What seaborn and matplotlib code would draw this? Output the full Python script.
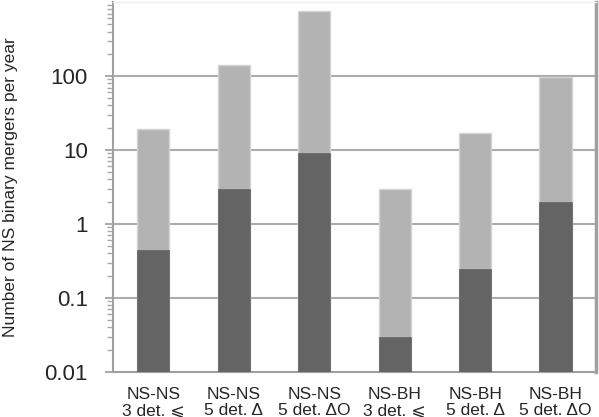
import matplotlib
matplotlib.use("Agg")
import matplotlib.pyplot as plt
import matplotlib.ticker as mticker
import seaborn as sns
import pandas as pd

categories = ["NS-NS\n3 det. ⩽", "NS-NS\n5 det. Δ", "NS-NS\n5 det. ΔO",
              "NS-BH\n3 det. ⩽", "NS-BH\n5 det. Δ", "NS-BH\n5 det. ΔO"]
upper_values = [19, 140, 750, 3.0, 17, 98]
lower_values = [0.44, 3.0, 9.0, 0.03, 0.25, 2.0]
y_ticks = [0.01, 0.1, 1, 10, 100]
y_tick_labels = ["0.01", "0.1", "1", "10", "100"]

df = pd.DataFrame({"cat": categories, "upper": upper_values, "lower": lower_values})

sns.set_style("white")
plt.rcParams["font.family"] = ["Liberation Sans", "DejaVu Sans"]

fig = plt.figure(figsize=(5.99, 4.17), dpi=100)
ax = fig.add_axes([0.1886, 0.108, 0.806, 0.887])
ax.set_yscale("log")

sns.barplot(data=df, x="cat", y="upper", color="#b3b3b3", saturation=1,
            width=0.4, edgecolor="#d4d4d4", linewidth=1, ax=ax, zorder=2)
sns.barplot(data=df, x="cat", y="lower", color="#646464", saturation=1,
            width=0.4, edgecolor="#646464", linewidth=0.5, ax=ax, zorder=3)

ax.set_ylim(0.01, 1000)
ax.set_xlim(-0.5, 5.5)
ax.set_yticks(y_ticks)
ax.set_yticklabels(y_tick_labels)
ax.yaxis.set_minor_locator(mticker.LogLocator(base=10, subs=range(2, 10)))
ax.yaxis.set_minor_formatter(mticker.NullFormatter())
ax.tick_params(axis="y", which="major", length=6, width=1.2, color="#999999",
               labelsize=16, pad=12, left=True)
ax.tick_params(axis="y", which="minor", length=4, width=1, color="#aaaaaa", left=True)
ax.tick_params(axis="x", length=0, labelsize=12.5, pad=11)
for lbl in ax.get_xticklabels():
    lbl.set_linespacing(1.1)

for y in [0.1, 1, 10, 100]:
    ax.axhline(y, color="#ababab", lw=1.5, zorder=1)

ax.set_xlabel("")
ax.set_ylabel("Number of NS binary mergers per year", fontsize=12.5)
ax.yaxis.set_label_coords(-0.197, 0.5)

for s in ["left", "bottom", "right"]:
    ax.spines[s].set_color("#a0a0a0")
    ax.spines[s].set_linewidth(1.5)
ax.spines["right"].set_linewidth(2.5)
ax.spines["top"].set_color("#eeeeee")
ax.spines["top"].set_linewidth(1)

fig.savefig("out.png", dpi=100)
